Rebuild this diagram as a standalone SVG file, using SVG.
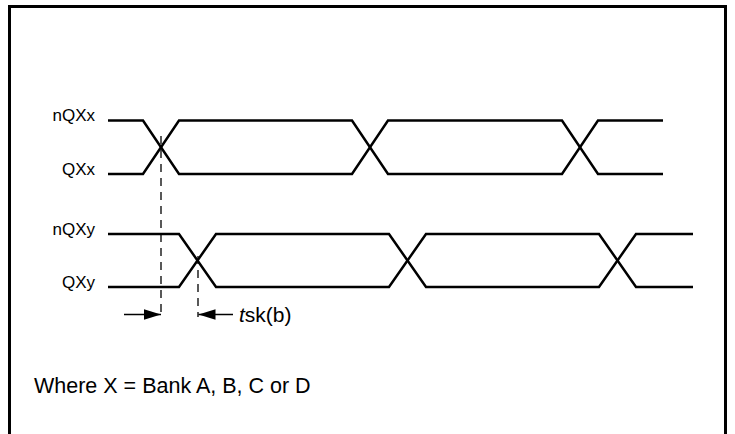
<svg xmlns="http://www.w3.org/2000/svg" width="735" height="434" viewBox="0 0 735 434">
<style>
  .wave { fill: none; stroke: #000; stroke-width: 2.5; stroke-linejoin: miter; }
  .lbl { font-family: "Liberation Sans", Arial, sans-serif; font-size: 17px; fill: #000; text-anchor: end; }
  .txt { font-family: "Liberation Sans", Arial, sans-serif; font-size: 21px; fill: #000; }
  .note { font-family: "Liberation Sans", Arial, sans-serif; font-size: 21.5px; fill: #000; }
  .dash { fill: none; stroke: #000; stroke-width: 1.3; stroke-dasharray: 8 6; }
  .arr { fill: none; stroke: #000; stroke-width: 1.5; marker-end: url(#ah); }
</style>
<defs>
  <marker id="ah" markerUnits="userSpaceOnUse" markerWidth="18" markerHeight="12" refX="17" refY="6" orient="auto">
    <path d="M0,0.8 L17,6 L0,11.2 Z" fill="#000"/>
  </marker>
</defs>
<rect width="735" height="434" fill="#fff"/>
<path id="frame" d="M9.5,434 V6.5 H725.5 V434" fill="none" stroke="#000" stroke-width="3"/>
<g id="sig-nQXx">
  <text class="lbl" x="95" y="121">nQXx</text>
  <path class="wave" d="M108,120.5 H143 L179,174 H352 L388,120.5 H562 L598,174 H663"/>
</g>
<g id="sig-QXx">
  <text class="lbl" x="95" y="174.5">QXx</text>
  <path class="wave" d="M108,174 H143 L179,120.5 H352 L388,174 H562 L598,120.5 H663"/>
</g>
<g id="sig-nQXy">
  <text class="lbl" x="95" y="235">nQXy</text>
  <path class="wave" d="M108,234 H179 L216,287 H389 L426,234 H599 L636,287 H693"/>
</g>
<g id="sig-QXy">
  <text class="lbl" x="95" y="288">QXy</text>
  <path class="wave" d="M108,287 H179 L216,234 H389 L426,287 H599 L636,234 H693"/>
</g>
<g id="connectors">
  <line class="dash" x1="161" y1="136" x2="161" y2="317"/>
  <line class="dash" x1="198" y1="256" x2="198" y2="317"/>
  <line class="arr" x1="124" y1="314.5" x2="161" y2="314.5"/>
  <line class="arr" x1="233" y1="314.5" x2="198.5" y2="314.5"/>
</g>
<g id="skew-label">
  <text class="txt" x="239" y="321.5"><tspan font-style="italic">t</tspan>sk(b)</text>
</g>
<g id="note">
  <text class="note" x="34" y="392.5">Where X = Bank A, B, C or D</text>
</g>
</svg>
